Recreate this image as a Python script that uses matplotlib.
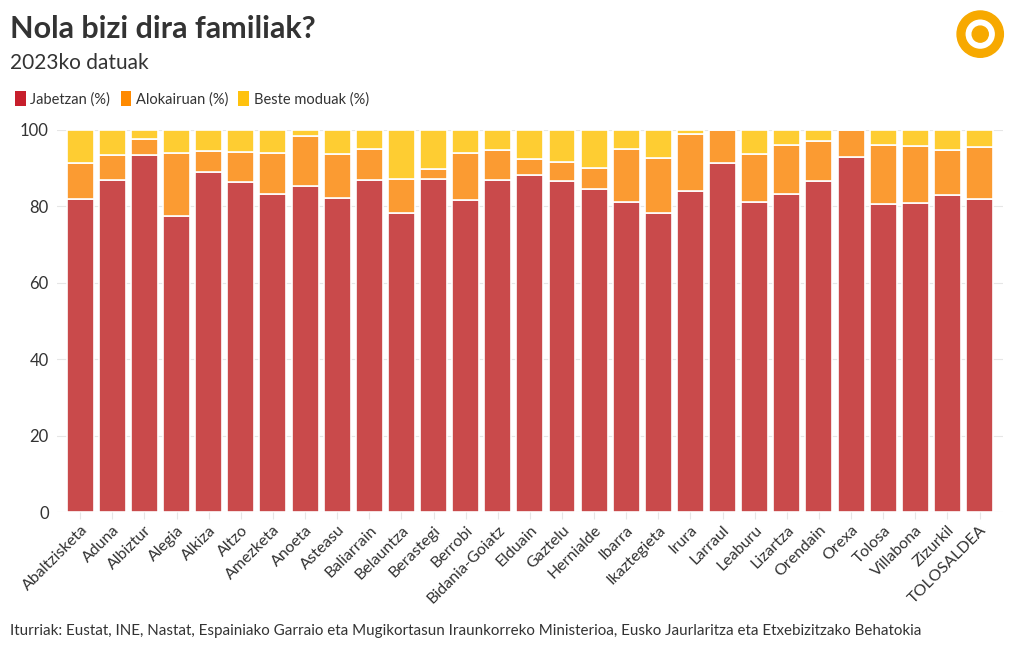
# Nola bizi dira familiak? - stacked bars, 2023 data
import numpy as np
import matplotlib.pyplot as plt
from matplotlib.patches import Patch, Circle, Wedge

plt.rcParams['font.family'] = ['Lato', 'DejaVu Sans']

# Data
towns = ["Abaltzisketa", "Aduna", "Albiztur", "Alegia", "Alkiza", "Altzo", "Amezketa",
         "Anoeta", "Asteasu", "Baliarrain", "Belauntza", "Berastegi", "Berrobi",
         "Bidania-Goiatz", "Elduain", "Gaztelu", "Hernialde", "Ibarra", "Ikaztegieta",
         "Irura", "Larraul", "Leaburu", "Lizartza", "Orendain", "Orexa", "Tolosa",
         "Villabona", "Zizurkil", "TOLOSALDEA"]
jabetzan = [81.9, 86.8, 93.5, 77.5, 88.9, 86.4, 83.2, 85.3, 82.2, 86.8, 78.4, 87.1,
            81.7, 86.8, 88.3, 86.6, 84.6, 81.1, 78.3, 84.0, 91.4, 81.2, 83.3, 86.6,
            92.9, 80.5, 81.0, 83.1, 81.9]
alokairuan = [9.5, 6.6, 4.2, 16.4, 5.6, 7.9, 10.9, 13.0, 11.6, 8.1, 8.8, 2.7,
              12.4, 8.0, 4.1, 5.0, 5.5, 14.0, 14.3, 14.9, 8.6, 12.6, 12.8, 10.5,
              7.1, 15.6, 14.9, 11.7, 13.6]
beste = [100 - a - b for a, b in zip(jabetzan, alokairuan)]

series = ["Jabetzan (%)", "Alokairuan (%)", "Beste moduak (%)"]
bar_colors = ["#c94a4b", "#fb9b32", "#fecd32"]
legend_colors = ["#c71f2c", "#ff8a00", "#ffc20e"]

fig = plt.figure(figsize=(10.2, 6.5), dpi=100)
ax = fig.add_axes([0.056, 0.2123, 0.927, 0.5877])

x = np.arange(len(towns))
bottom = np.zeros(len(towns))
for vals, col in zip([jabetzan, alokairuan, beste], bar_colors):
    ax.bar(x, vals, bottom=bottom, width=0.84, color=col, edgecolor="white",
           linewidth=1.2, zorder=3)
    bottom += np.array(vals)

ax.set_xlim(-0.72, len(towns) - 0.28)
ax.set_ylim(0, 100)
ax.set_yticks([0, 20, 40, 60, 80, 100])
ax.set_xticks(x)
ax.set_xticklabels(towns, rotation=45, ha="right", rotation_mode="anchor")
ax.tick_params(axis="x", length=5, color="#e6e6e6", labelsize=11.5, labelcolor="#333333", pad=3)
ax.tick_params(axis="y", length=0, labelsize=12, labelcolor="#333333", pad=6)
ax.grid(axis="y", color="#e6e6e6", linewidth=0.8, zorder=0)
for s in ax.spines.values():
    s.set_visible(False)

# Titles
fig.text(0.010, 0.955, "Nola bizi dira familiak?", fontsize=22, fontweight="bold",
         color="#333333", va="center")
fig.text(0.010, 0.903, "2023ko datuak", fontsize=15, color="#333333", va="center")

# Legend
handles = [Patch(facecolor=c, edgecolor="none", label=l) for c, l in zip(legend_colors, series)]
fig.legend(handles=handles, loc="center left", bbox_to_anchor=(0.002, 0.848), ncol=3,
           frameon=False, fontsize=10.5, handlelength=0.75, handleheight=1.2,
           handletextpad=0.3, columnspacing=0.7, labelcolor="#333333")

# Footer
fig.text(0.010, 0.029, "Iturriak: Eustat, INE, Nastat, Espainiako Garraio eta Mugikortasun "
         "Iraunkorreko Ministerioa, Eusko Jaurlaritza eta Etxebizitzako Behatokia",
         fontsize=10.9, color="#333333", va="center")

# Logo
lax = fig.add_axes([0.937, 0.910, 0.048, 0.075])
lax.set_xlim(-1, 1)
lax.set_ylim(-1, 1)
lax.set_aspect("equal")
lax.axis("off")
lax.add_patch(Wedge((0, 0), 0.95, 0, 360, width=0.32, color="#f7a900"))
lax.add_patch(Circle((0, 0.0), 0.33, color="#f7a900"))

fig.savefig("out.png", dpi=100)
